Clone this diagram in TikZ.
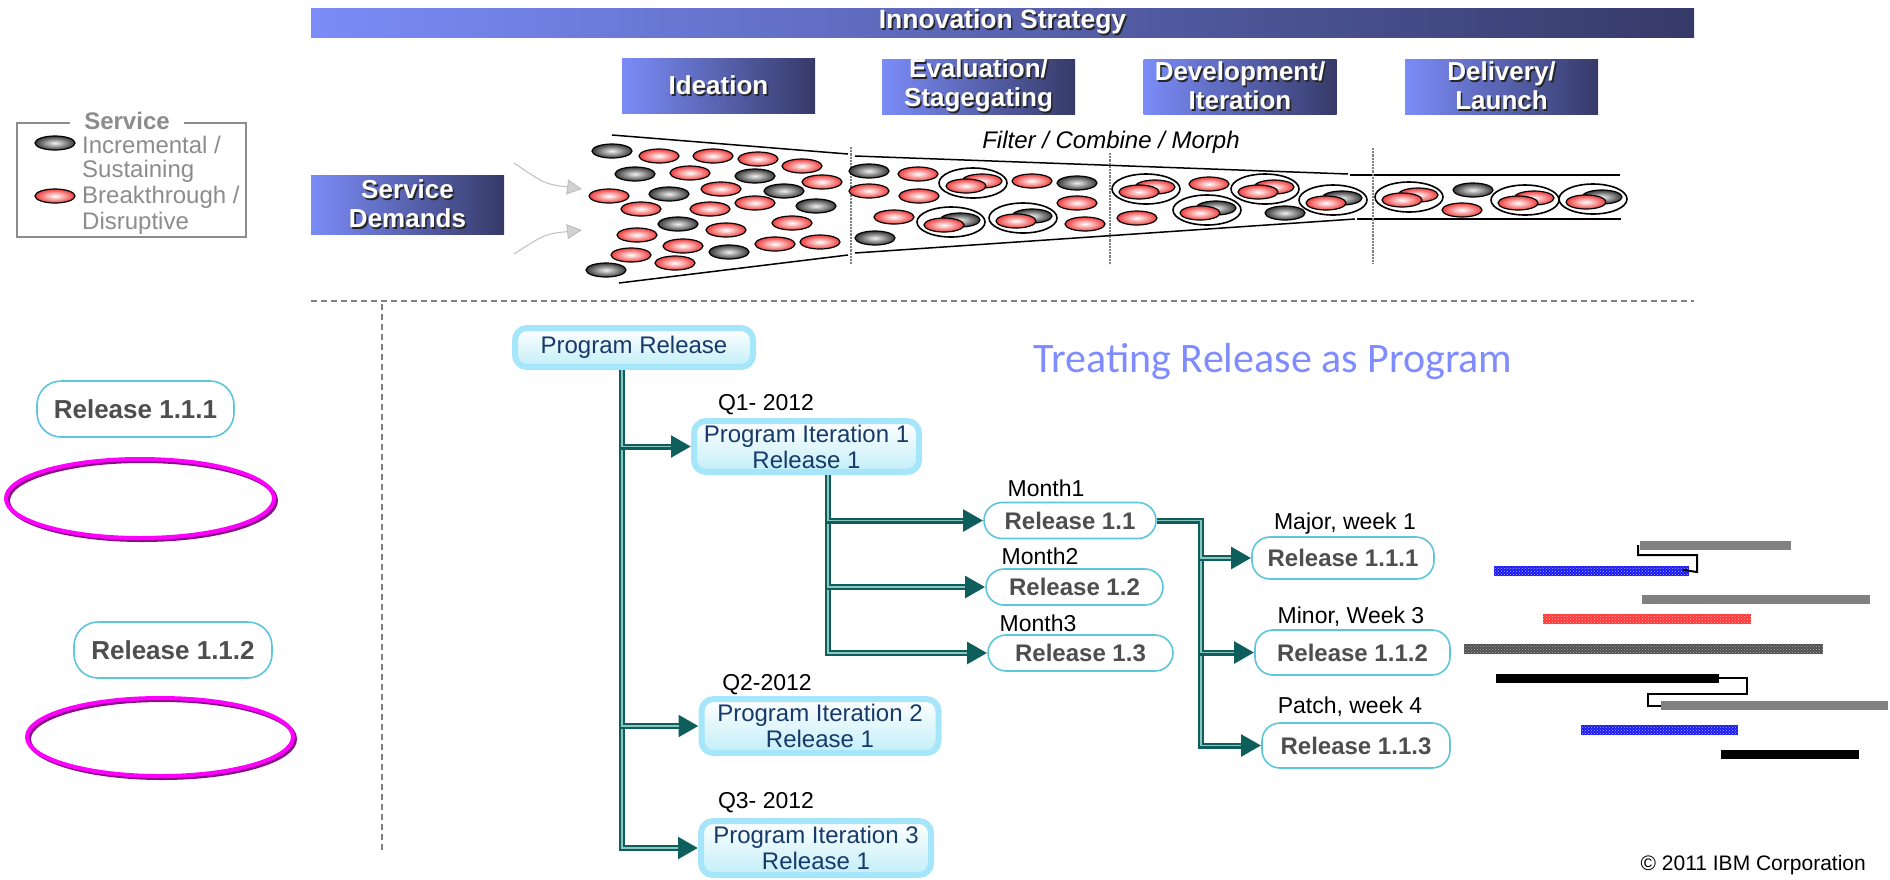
\documentclass[tikz,border=0pt]{standalone}
\usepackage{fontspec}
\setmainfont{Liberation Sans}
\newfontfamily\calibrifont{Carlito}
\usepackage{tikz}
\usetikzlibrary{shapes.geometric, arrows.meta, positioning, calc, patterns}
\definecolor{barlight}{HTML}{7B8CF8}
\definecolor{bardark}{HTML}{363A68}
\definecolor{boxedge}{HTML}{A6E6FA}
\definecolor{boxfill}{HTML}{C2EEF8}
\definecolor{boxtext}{HTML}{163A6A}
\definecolor{pillline}{HTML}{5CC6DA}
\definecolor{pilltext}{HTML}{4E4E4E}
\definecolor{flowdark}{HTML}{0E5E5C}
\definecolor{flowlight}{HTML}{8CC4C2}
\definecolor{cellred}{HTML}{F03C3C}
\definecolor{cellgray}{HTML}{383838}
\definecolor{titleblue}{HTML}{7F8CFF}
\definecolor{legendgray}{HTML}{8C8C8C}
\definecolor{ringmag}{HTML}{FF00FF}
\definecolor{ringshade}{HTML}{8A0A8A}
\definecolor{bargray}{HTML}{808080}
\definecolor{barblue}{HTML}{1A1AF0}
\definecolor{barred}{HTML}{FF3838}
\definecolor{bardots}{HTML}{505050}

\newcommand{\dropshade}[1]{\makebox[0pt][l]{\hspace{1.6pt}\raisebox{-1.6pt}{\color{black!85}#1}}{\color{white}#1}}

\tikzset{
  phasebox/.style={rectangle, left color=barlight, right color=bardark, minimum width=193pt, minimum height=55pt,
    align=center, font=\fontsize{26pt}{29pt}\selectfont\bfseries, inner sep=0pt},
  progbox/.style={rectangle, rounded corners=12pt, draw=boxedge, line width=6pt, top color=white, bottom color=boxfill,
    text=boxtext, align=center, font=\fontsize{24pt}{26pt}\selectfont, inner sep=0pt},
  pill/.style={rectangle, rounded corners=18pt, draw=pillline, line width=1.6pt, fill=white, text=pilltext,
    font=\fontsize{24pt}{26pt}\selectfont\bfseries, inner sep=0pt},
  tag/.style={font=\fontsize{23pt}{26pt}\selectfont, inner sep=0pt},
  flow/.style={draw=flowdark, line width=6pt, -{Triangle[length=20pt,width=21pt]},
    postaction={draw=flowlight, line width=1.6pt, -, shorten >=20pt}},
  feed/.style={draw=gray!50, line width=1pt, -{Triangle[length=15pt,width=15pt, fill=gray!35]}},
  redcell/.style={draw=black, line width=1.2pt, inner color=white, outer color=cellred},
  graycell/.style={draw=black, line width=1.2pt, inner color=gray!12, outer color=cellgray},
  ring/.style={ellipse, draw=ringmag, line width=4pt, inner sep=0pt},
  sepline/.style={draw=gray, line width=1.5pt, dash pattern=on 6pt off 4pt},
  dotbar/.style={postaction={pattern=crosshatch dots, pattern color=#1}}
}

\begin{document}
\begin{tikzpicture}[x=1pt, y=-1pt]
  \useasboundingbox (0,0) rectangle (1890,879);

  % Innovation strategy header and phases
  \node[phasebox, minimum width=1383pt, minimum height=29pt, font=\fontsize{26.5pt}{29pt}\selectfont\bfseries] (strategy) at (1002.5,22.5) {\dropshade{Innovation Strategy}};
  \node[phasebox] (ideation) at (718.5,86) {\dropshade{Ideation}};
  \node[phasebox] (evaluation) at (978.5,86.5) {\dropshade{Evaluation/}\\\dropshade{Stagegating}};
  \node[phasebox] (development) at (1240,86.5) {\dropshade{Development/}\\\dropshade{Iteration}};
  \node[phasebox] (delivery) at (1501.5,86.5) {\dropshade{Delivery/}\\\dropshade{Launch}};
  \node[phasebox, minimum height=59pt] (demands) at (407.5,204.5) {\dropshade{Service}\\\dropshade{Demands}};

  % Legend
  \draw[legendgray, line width=2pt] (17,123) rectangle (246,237);
  \node[fill=white, text=legendgray, font=\fontsize{24pt}{26pt}\selectfont\bfseries, inner xsep=14pt, inner ysep=0pt] (lgtitle) at (127,121) {Service};
  \shade[graycell] (55,143) ellipse (20 and 7);
  \shade[redcell] (55,196) ellipse (20 and 7);
  \foreach \ty/\tx [count=\i] in {145/{Incremental /}, 171/{Sustaining}, 197/{Breakthrough /}, 223/{Disruptive}}
    \node[anchor=west, text=legendgray, font=\fontsize{24pt}{26pt}\selectfont, inner sep=0pt] (lg\i) at (82,\ty) {\tx};

  % Funnel outline
  \draw[line width=1.5pt] (612,135) -- (848,154);
  \draw[line width=1.5pt] (855,156) -- (1348,174);
  \draw[line width=1.5pt] (1350,175) -- (1620,175);
  \draw[line width=1.5pt] (619,283) -- (848,255);
  \draw[line width=1.5pt] (855,253) -- (1355,219);
  \draw[line width=1.5pt] (1357,219) -- (1621,219);
  \foreach \dx/\ya/\yb in {851/147/265, 1110/153/265, 1373/148/264}
    \draw[gray, densely dotted, line width=2.2pt] (\dx,\ya) -- (\dx,\yb);
  \node[font=\fontsize{24pt}{26pt}\selectfont\itshape, inner sep=0pt] (filter) at (1111,142) {Filter / Combine / Morph};

  % Service cells
  \foreach \cx/\cy in {659/156, 713/156, 758/159, 802/166, 690/173, 822/182, 609/196, 721/189, 641/209, 710/209,
      755/203, 726/230, 792/223, 637/235, 683/246, 775/244, 820/242, 631/255, 675/263, 918/174, 869/191, 919/196,
      1032/181, 1077/203, 894/217, 1085/224, 1209/184, 1137/218, 1462/210}
    \shade[redcell] (\cx,\cy) ellipse (20 and 7);
  \foreach \cx/\cy in {612/151, 635/174, 755/176, 669/194, 784/191, 816/206, 678/224, 729/252, 606/270, 869/171,
      1077/183, 875/238, 1285/213, 1473/190}
    \shade[graycell] (\cx,\cy) ellipse (20 and 7);
  % Combined cells
  \foreach \gx/\gy/\gin/\gout in {973/183/white/cellred, 951/222/gray!12/cellgray, 1023/218/gray!12/cellgray,
      1146/189/white/cellred, 1265/189/white/cellred, 1207/210/gray!12/cellgray, 1333/200/gray!12/cellgray,
      1409/197/white/cellred, 1525/200/white/cellred, 1593/199/gray!12/cellgray} {
    \shade[draw=black, line width=1.2pt, inner color=\gin, outer color=\gout] (\gx+9,\gy-2) ellipse (20 and 7);
    \shade[redcell] (\gx-7,\gy+3) ellipse (20 and 7);
    \draw[line width=1.6pt] (\gx,\gy) ellipse (34 and 15);
  }

  % Demand inputs
  \coordinate (in1) at (514,163);
  \coordinate (in2) at (514,254);
  \coordinate (out1) at (582,189);
  \coordinate (out2) at (582,230);
  \draw[feed] (in1) .. controls (545,184) .. (out1);
  \draw[feed] (in2) .. controls (545,234) .. (out2);

  % Separators
  \draw[sepline] (311,301) -- (1694,301);
  \draw[sepline] (382,304) -- (382,850);

  \node[text=titleblue, font=\calibrifont\fontsize{42pt}{46pt}\selectfont, inner sep=0pt] (treating) at (1273,362) {Treating Release as Program};

  % Program releases
  \node[progbox, minimum width=238pt, minimum height=39pt] (pr) at (634,347.5) {Program Release};
  \node[progbox, minimum width=225pt, minimum height=51pt] (pi1) at (806.5,446.5) {Program Iteration 1\\Release 1};
  \node[progbox, minimum width=237pt, minimum height=54pt] (pi2) at (820,726) {Program Iteration 2\\Release 1};
  \node[progbox, minimum width=230pt, minimum height=54pt] (pi3) at (816,848) {Program Iteration 3\\Release 1};
  \node[tag] (q1) at (766,405) {Q1- 2012};
  \node[tag] (q2) at (767,685) {Q2-2012};
  \node[tag] (q3) at (766,803) {Q3- 2012};

  % Monthly releases
  \node[pill, minimum width=172pt, minimum height=36pt] (r11) at (1070,520.5) {Release 1.1};
  \node[pill, minimum width=177pt, minimum height=36pt] (r12) at (1074.5,587) {Release 1.2};
  \node[pill, minimum width=185pt, minimum height=36pt] (r13) at (1080.5,653) {Release 1.3};
  \node[tag] (m1) at (1046,488) {Month1};
  \node[tag] (m2) at (1040,556) {Month2};
  \node[tag] (m3) at (1038,623) {Month3};

  % Weekly releases
  \node[pill, minimum width=182pt, minimum height=42pt] (r111) at (1343,558) {Release 1.1.1};
  \node[pill, minimum width=195pt, minimum height=45pt] (r112) at (1352.5,652.5) {Release 1.1.2};
  \node[pill, minimum width=188pt, minimum height=45pt] (r113) at (1356,745.5) {Release 1.1.3};
  \node[tag] (w1) at (1345,524) {Major, week 1};
  \node[tag] (w3) at (1351,617) {Minor, Week 3};
  \node[tag] (w4) at (1350,707) {Patch, week 4};

  % Connectors
  \draw[flow] ($(pr.south)+(-12,0)$) |- (pi3.west);
  \draw[flow] ($(pr.south)+(-12,0)$) |- (pi2.west);
  \draw[flow] ($(pr.south)+(-12,0)$) |- (pi1.west);
  \draw[flow] ($(pi1.south)+(21.5,0)$) |- (r13.west);
  \draw[flow] ($(pi1.south)+(21.5,0)$) |- (r12.west);
  \draw[flow] ($(pi1.south)+(21.5,0)$) |- (r11.west);
  \draw[flow] (r11.east) -- ++(44,0) |- (r113.west);
  \draw[flow] (r11.east) -- ++(44,0) |- (r112.west);
  \draw[flow] (r11.east) -- ++(44,0) |- (r111.west);

  % Left side releases
  \node[pill, rounded corners=24pt, minimum width=197pt, minimum height=56pt, font=\fontsize{26pt}{28pt}\selectfont\bfseries] (rl1) at (135.5,409) {Release 1.1.1};
  \node[pill, rounded corners=24pt, minimum width=198pt, minimum height=56pt, font=\fontsize{26pt}{28pt}\selectfont\bfseries] (rl2) at (173,650) {Release 1.1.2};
  \draw[ringshade, line width=4pt] (142,500.5) ellipse (134 and 39.5);
  \node[ring, minimum width=268pt, minimum height=79pt] (el1) at (140,498.5) {};
  \draw[ringshade, line width=4pt] (162,739) ellipse (133 and 39);
  \node[ring, minimum width=266pt, minimum height=78pt] (el2) at (160,737) {};

  % Schedule bars
  \fill[bargray] (1640,541) rectangle (1791,550);
  \fill[barblue, dotbar=blue!30!white] (1494,566) rectangle (1689,576);
  \draw[line width=2pt] (1638,545) -- (1638,555) -- (1697,555) -- (1697,572) -- (1683,570);
  \fill[bargray] (1642,595) rectangle (1870,604);
  \fill[barred, dotbar=red!30!white] (1543,614) rectangle (1751,624);
  \fill[bardots, dotbar=gray!60!white] (1464,644) rectangle (1823,654);
  \fill[black] (1496,674) rectangle (1719,683);
  \draw[line width=2pt] (1719,678) -- (1747,678) -- (1747,694) -- (1648,694) -- (1648,706) -- (1670,706);
  \fill[bargray] (1661,701) rectangle (1888,710);
  \fill[barblue, dotbar=blue!30!white] (1581,725) rectangle (1738,735);
  \fill[black] (1721,750) rectangle (1859,759);

  \node[anchor=east, font=\fontsize{21pt}{24pt}\selectfont, inner sep=0pt] (ibm) at (1866,865) {\textcopyright{} 2011 IBM Corporation};
\end{tikzpicture}
\end{document}
